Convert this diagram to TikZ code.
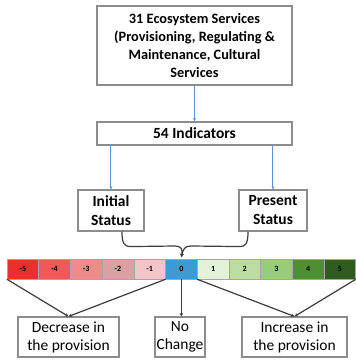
\documentclass[tikz,border=0pt]{standalone}
\usepackage{fontspec}
\setmainfont{Carlito}
\usepackage{xcolor}
\usetikzlibrary{arrows.meta,positioning}

\definecolor{boxgray}{HTML}{8C8C8C}
\definecolor{linkblue}{HTML}{5B8FD6}
\definecolor{braceline}{HTML}{3C3C3C}
\definecolor{dec5}{HTML}{E8302E}
\definecolor{dec4}{HTML}{EE5A58}
\definecolor{dec3}{HTML}{F28A8A}
\definecolor{dec2}{HTML}{DDA0A2}
\definecolor{dec1}{HTML}{F2C6C8}
\definecolor{nochg}{HTML}{3A9BD5}
\definecolor{inc1}{HTML}{E4F2DA}
\definecolor{inc2}{HTML}{B9DDA2}
\definecolor{inc3}{HTML}{97CC7A}
\definecolor{inc4}{HTML}{4E8F34}
\definecolor{inc5}{HTML}{2F5C20}

\begin{document}
\begin{tikzpicture}[
    x=1pt, y=-1pt,
    box/.style={
      draw=boxgray, line width=1.1pt, align=center, fill=white,
      inner sep=0pt, font=\fontsize{15.5}{19}\selectfont\bfseries
    },
    outcome/.style={
      box, font=\fontsize{15.5}{18}\selectfont
    },
    cell/.style={
      draw=black!35, line width=0.4pt, inner sep=0pt,
      minimum width=31.7pt, minimum height=20pt,
      font=\fontsize{8}{9}\selectfont\bfseries
    },
    arrow/.style={-{Stealth[length=3.5pt,width=3pt]},line width=1pt,draw=linkblue},
    link/.style={-{Stealth[length=3.5pt,width=3.5pt]},line width=1.2pt,draw=braceline}
  ]
    \useasboundingbox (0,0) rectangle (356,360);

    \node[box, minimum width=195pt, minimum height=79pt, font=\fontsize{14.3}{18}\selectfont\bfseries] (es) at (194.5,45.5)
      {31 Ecosystem Services\\(Provisioning, Regulating \&\\Maintenance, Cultural\\Services};
    \node[box, minimum width=195pt, minimum height=23pt] (ind) at (194.5,133.5) {54 Indicators};
    \node[box, minimum width=66pt, minimum height=41pt] (init) at (111,210.5) {Initial\\Status};
    \node[box, minimum width=68pt, minimum height=41pt] (pres) at (273,210.5) {Present\\Status};

    % score scale from -5 to 5
    \foreach \v/\col [count=\i from 0] in {-5/dec5,-4/dec4,-3/dec3,-2/dec2,-1/dec1,0/nochg,1/inc1,2/inc2,3/inc3,4/inc4,5/inc5}
      \node[cell, fill=\col] (c\i) at (22.85+31.7*\i,269) {\v};

    \node[outcome, minimum width=101pt, minimum height=40pt] (dec) at (68.5,337) {Decrease in\\the provision};
    \node[outcome, minimum width=50pt, minimum height=40pt] (nc) at (180,337) {No\\Change};
    \node[outcome, minimum width=105pt, minimum height=40pt] (inc) at (294.5,337) {Increase in\\the provision};

    \draw[arrow] (es) -- (ind);
    \draw[arrow] (ind.south -| init) -- (init);
    \draw[arrow] (ind.south -| pres) -- (pres);

    % brace joining both states onto the 0 cell
    \coordinate (tip) at ([yshift=1.5pt]c5.north);
    \coordinate (bl) at ([xshift=11pt]init.south);
    \coordinate (br) at ([xshift=-25pt]pres.south);
    \draw[link] (bl) .. controls +(0,12) and +(-7,0) .. ([xshift=9pt,yshift=-15pt]bl)
      -- (175,246) .. controls (181,246) and (183,249) .. (tip);
    \draw[link] (br) .. controls +(0,12) and +(7,0) .. ([xshift=-9pt,yshift=-15pt]br)
      -- (191,246) .. controls (185,246) and (183,249) .. (tip);

    \draw[link] (c0.south west) -- (dec.north);
    \draw[link] (c4.south east) -- (dec.north);
    \draw[link] (c5.south) -- (c5.south |- nc.north);
    \draw[link] (c6.south west) -- (inc.north);
    \draw[link] (c10.south east) -- (inc.north);
  \end{tikzpicture}
\end{document}
